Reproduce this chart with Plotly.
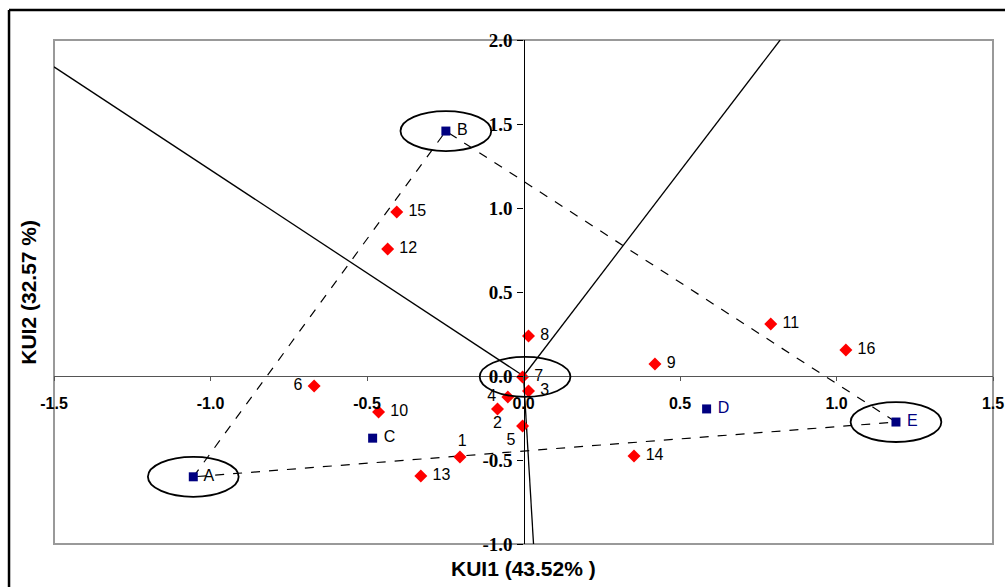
import plotly.graph_objects as go

# ---- data ----
sample_labels = ["1", "2", "3", "4", "5", "6", "7", "8", "9", "10", "11", "12", "13", "14", "15", "16"]
sample_x = [-0.203, -0.083, 0.016, -0.05, -0.003, -0.669, -0.003, 0.016, 0.42, -0.463, 0.79, -0.434, -0.328, 0.353, -0.405, 1.03]
sample_y = [-0.482, -0.196, -0.089, -0.125, -0.298, -0.06, -0.006, 0.238, 0.071, -0.214, 0.31, 0.756, -0.595, -0.476, 0.976, 0.155]
sample_pos = ["top center", "bottom center", "middle right", "middle left", "bottom left", "middle left",
              "middle right", "middle right", "middle right", "middle right", "middle right", "middle right",
              "middle right", "middle right", "middle right", "middle right"]

group_labels = ["A", "B", "C", "D", "E"]
group_x = [-1.055, -0.248, -0.482, 0.585, 1.19]
group_y = [-0.60, 1.458, -0.37, -0.196, -0.274]
group_text_colors = ["#000000", "#000000", "#000000", "#000080", "#000080"]

# loading vectors (from origin)
vector_x = [-1.5, 0.82, 0.032]
vector_y = [1.84, 2.0, -1.0]

# triangle connecting A, B, E (indices into groups)
triangle_idx = [0, 1, 4, 0]

# ellipses around B, A, E and the origin
ellipse_centers_x = [group_x[1], group_x[0], group_x[4], 0.005]
ellipse_centers_y = [group_y[1], group_y[0], group_y[4], -0.005]

x_ticks = [-1.5, -1.0, -0.5, 0.0, 0.5, 1.0, 1.5]
x_tick_text = ["-1.5", "-1.0", "-0.5", "0.0", "0.5", "1.0", "1.5"]
y_ticks = [-1.0, -0.5, 0.0, 0.5, 1.0, 1.5, 2.0]
y_tick_text = ["-1.0", "-0.5", "0.0", "0.5", "1.0", "1.5", "2.0"]


def pad(label, pos):
    if pos == "middle right":
        return " " + label
    if pos == "middle left":
        return label + " "
    if pos == "top center":
        return " " + label
    return label


fig = go.Figure()

# vectors
for vx, vy in zip(vector_x, vector_y):
    fig.add_trace(go.Scatter(x=[0, vx], y=[0, vy], mode="lines",
                             line=dict(color="black", width=1.3), hoverinfo="skip"))

# dashed triangle
fig.add_trace(go.Scatter(x=[group_x[i] for i in triangle_idx], y=[group_y[i] for i in triangle_idx],
                         mode="lines", line=dict(color="black", width=1.2, dash="dash"), hoverinfo="skip"))

# samples
fig.add_trace(go.Scatter(x=sample_x, y=sample_y, mode="markers+text",
                         text=[pad(l, p) for l, p in zip(sample_labels, sample_pos)],
                         textposition=sample_pos,
                         textfont=dict(family="Liberation Sans, Arial", size=16, color="black"),
                         marker=dict(symbol="diamond", size=10, color="#ff0000"), cliponaxis=False))

# groups
fig.add_trace(go.Scatter(x=group_x, y=group_y, mode="markers+text",
                         text=[" " + g for g in group_labels],
                         textposition="middle right",
                         textfont=dict(family="Liberation Sans, Arial", size=16, color=group_text_colors),
                         marker=dict(symbol="square", size=9, color="#000080"), cliponaxis=False))

shapes = []
rx, ry = 0.145, 0.119
for cx, cy in zip(ellipse_centers_x, ellipse_centers_y):
    shapes.append(dict(type="circle", xref="x", yref="y", x0=cx - rx, x1=cx + rx, y0=cy - ry, y1=cy + ry,
                       line=dict(color="black", width=1.8)))
# plot area border
shapes.append(dict(type="rect", xref="paper", yref="paper", x0=0, x1=1, y0=0, y1=1,
                   line=dict(color="#999999", width=2), layer="below"))
# outer frame (left and top)
shapes.append(dict(type="line", xref="paper", yref="paper", x0=-0.0479, x1=-0.0479, y0=-0.09, y1=1.0595,
                   line=dict(color="black", width=2.5)))
shapes.append(dict(type="line", xref="paper", yref="paper", x0=-0.0479, x1=1.02, y0=1.0595, y1=1.0595,
                   line=dict(color="black", width=2.5)))

fig.update_layout(
    width=1005, height=587, autosize=False,
    margin=dict(l=54, r=12, t=40, b=43),
    paper_bgcolor="white", plot_bgcolor="white",
    showlegend=False,
    shapes=shapes,
    xaxis=dict(range=[-1.5, 1.5], tickvals=x_ticks, ticktext=x_tick_text,
               showgrid=False, zeroline=False, automargin=False,
               showline=True, linecolor="#555555", linewidth=1.2,
               anchor="free", position=1/3,
               ticks="outside", ticklen=4, tickcolor="#555555",
               ticklabelstandoff=9,
               tickfont=dict(family="Liberation Sans, Arial", size=16, color="black", weight="bold")),
    yaxis=dict(range=[-1.0, 2.0], tickvals=y_ticks, ticktext=y_tick_text,
               showgrid=False, zeroline=False, automargin=False,
               showline=True, linecolor="black", linewidth=1.2,
               anchor="free", position=0.5,
               ticks="outside", ticklen=6, tickcolor="black",
               ticklabelstandoff=1,
               tickfont=dict(family="Liberation Serif, Times New Roman", size=19, color="black", weight="bold")),
    annotations=[
        dict(text="KUI1 (43.52% )", xref="paper", yref="paper", x=0.5, y=-0.048, yanchor="middle",
             showarrow=False, font=dict(family="Liberation Sans, Arial", size=21, color="black", weight="bold")),
        dict(text="KUI2 (32.57 %)", xref="paper", yref="paper", x=-0.028, y=0.5, textangle=-90,
             xanchor="center", showarrow=False,
             font=dict(family="Liberation Sans, Arial", size=21, color="black", weight="bold")),
    ],
)

fig.write_html(
    "out.html",
    config={"displayModeBar": False, "responsive": False},
    post_script="document.body.style.margin='0px';document.body.style.overflow='hidden';"
                "document.documentElement.style.overflow='hidden';",
)
